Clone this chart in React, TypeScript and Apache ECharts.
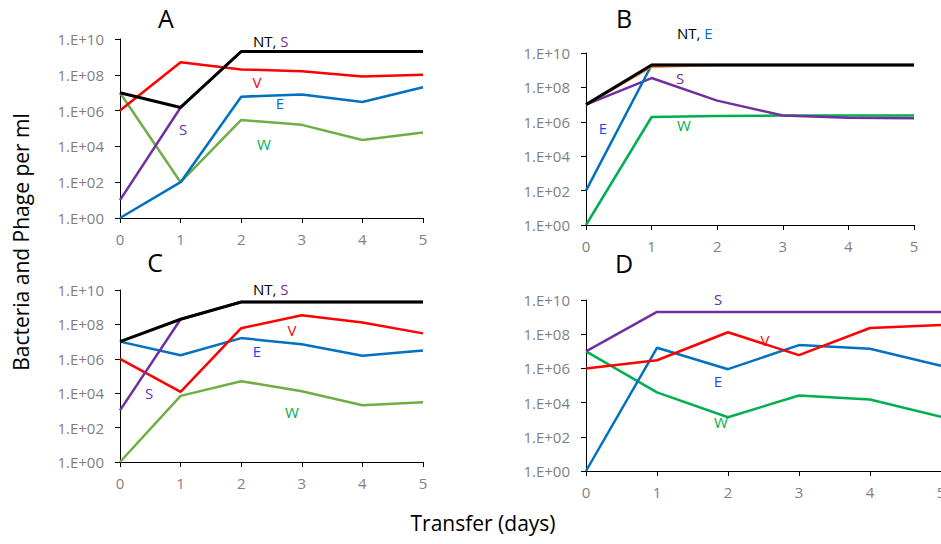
import React, { useEffect, useRef } from "react";
import * as echarts from "echarts";

const days = [0, 1, 2, 3, 4, 5];

// Panel A
const aNT = [1e7, 1.5e6, 2e9, 2e9, 2e9, 2e9];
const aV = [1e6, 5e8, 2e8, 1.6e8, 8e7, 1e8];
const aE = [1, 100, 6e6, 8e6, 3e6, 2e7];
const aW = [1e7, 100, 3e5, 1.6e5, 2.3e4, 6e4];
const aS = [10, 1.5e6, 2e9, 2e9, 2e9, 2e9];

// Panel B
const bNT = [1e7, 2e9, 2e9, 2e9, 2e9, 2e9];
const bV = [1e7, 1.6e9, 2e9, 2e9, 2e9, 2e9];
const bE = [100, 2e9, 2e9, 2e9, 2e9, 2e9];
const bS = [1e7, 3.5e8, 1.7e7, 2.3e6, 1.7e6, 1.6e6];
const bW = [1, 1.9e6, 2.2e6, 2.3e6, 2.3e6, 2.3e6];

// Panel C
const cNT = [1e7, 2e8, 2e9, 2e9, 2e9, 2e9];
const cV = [1e6, 1.2e4, 6e7, 3.4e8, 1.3e8, 3e7];
const cE = [1e7, 1.6e6, 1.6e7, 7e6, 1.5e6, 3e6];
const cW = [1, 7e3, 5e4, 1.3e4, 2e3, 3e3];
const cS = [1e3, 2e8, 2e9, 2e9, 2e9, 2e9];

// Panel D
const dS = [1e7, 2e9, 2e9, 2e9, 2e9, 2e9];
const dV = [1e6, 3e6, 1.3e8, 6e6, 2.3e8, 3.5e8];
const dE = [1, 1.6e7, 9e5, 2.3e7, 1.4e7, 1.4e6];
const dW = [1e7, 4e4, 1.4e3, 2.6e4, 1.5e4, 1.5e3];

const yTicks = ["1.E+00", "1.E+02", "1.E+04", "1.E+06", "1.E+08", "1.E+10"];

const BLACK = "#000000";
const RED = "#FF0000";
const BLUE = "#0070C0";
const GREEN_AC = "#70AD47";
const GREEN_BD = "#00B050";
const PURPLE = "#7030A0";
const ORANGE = "#ED7D31";
const FONT = "'Open Sans', sans-serif";

const pairs = (vals: number[]) => days.map((d, i) => [d, vals[i]]);

export default function App() {
  const ref = useRef<HTMLDivElement>(null);
  useEffect(() => {
    document.body.style.margin = "0";
    const chart = echarts.init(ref.current!, null, { renderer: "svg" });

    const grids = [
      { left: 120, top: 39, width: 303, height: 179 },
      { left: 586, top: 53, width: 328, height: 172 },
      { left: 120, top: 290, width: 303, height: 172 },
      { left: 586, top: 300, width: 355, height: 171 },
    ];

    const xAxes = grids.map((_, i) => ({
      type: "value",
      gridIndex: i,
      min: 0,
      max: 5,
      interval: 1,
      axisLine: { show: true, lineStyle: { color: "#000", width: 1 } },
      axisTick: { show: true, length: 5, lineStyle: { color: "#000" } },
      splitLine: { show: false },
      axisLabel: { color: "#7f7f7f", fontSize: 15, fontFamily: FONT, margin: 13 },
    }));

    const yAxes = grids.map((_, i) => ({
      type: "log",
      logBase: 100,
      gridIndex: i,
      min: 1,
      max: 1e10,
      axisLine: { show: true, lineStyle: { color: "#000", width: 1 } },
      axisTick: { show: true, length: 5, lineStyle: { color: "#000" } },
      splitLine: { show: false },
      minorTick: { show: false },
      axisLabel: {
        color: "#7f7f7f",
        fontSize: 15,
        fontFamily: FONT,
        margin: 16,
        formatter: (v: number) => {
          const e = Math.round(Math.log10(v) / 2);
          return yTicks[e] ?? "";
        },
      },
    }));

    const mk = (idx: number, data: number[], color: string, width = 2.5) => ({
      type: "line",
      xAxisIndex: idx,
      yAxisIndex: idx,
      data: pairs(data),
      symbol: "none",
      lineStyle: { color, width },
      itemStyle: { color },
      silent: true,
    });

    const series = [
      mk(0, aW, GREEN_AC),
      mk(0, aE, BLUE),
      mk(0, aV, RED),
      mk(0, aS, PURPLE),
      mk(0, aNT, BLACK, 3),

      mk(1, bW, GREEN_BD),
      mk(1, bS, PURPLE),
      mk(1, bE, BLUE),
      mk(1, bV, ORANGE),
      mk(1, bNT, BLACK, 3),

      mk(2, cW, GREEN_AC),
      mk(2, cE, BLUE),
      mk(2, cV, RED),
      mk(2, cS, PURPLE),
      mk(2, cNT, BLACK, 3),

      mk(3, dW, GREEN_BD),
      mk(3, dE, BLUE),
      mk(3, dV, RED),
      mk(3, dS, PURPLE),
    ];

    const t = (text: string, x: number, y: number, fill: string, fontSize = 15) => ({
      type: "text",
      x,
      y,
      style: {
        text,
        fill,
        fontSize,
        fontFamily: FONT,
        align: "center",
        verticalAlign: "middle",
      },
      silent: true,
    });

    const rt = (a: string, b: string, bColor: string, x: number, y: number) => ({
      type: "text",
      x,
      y,
      style: {
        text: `{k|${a}}{c|${b}}`,
        fontSize: 15,
        fontFamily: FONT,
        align: "left",
        verticalAlign: "middle",
        rich: {
          k: { fill: "#000", fontSize: 15, fontFamily: FONT },
          c: { fill: bColor, fontSize: 15, fontFamily: FONT },
        },
      },
      silent: true,
    });

    const graphic = [
      t("A", 166, 18, "#000", 25),
      t("B", 624, 18, "#000", 25),
      t("C", 155, 262, "#000", 25),
      t("D", 624, 263, "#000", 25),

      rt("NT, ", "S", PURPLE, 253, 41),
      t("V", 257, 82, RED),
      t("E", 280, 103, BLUE),
      t("S", 183, 129, PURPLE),
      t("W", 264, 144, GREEN_BD),

      rt("NT, ", "E", BLUE, 677, 33),
      t("S", 680, 78, PURPLE),
      t("E", 603, 128, "#1f3fff"),
      t("W", 684, 125, GREEN_BD),

      rt("NT, ", "S", PURPLE, 253, 289),
      t("V", 292, 330, RED),
      t("E", 257, 351, "#1f3fff"),
      t("S", 149, 393, PURPLE),
      t("W", 292, 412, GREEN_BD),

      t("S", 718, 299, PURPLE),
      t("V", 765, 340, RED),
      t("E", 718, 381, "#1f3fff"),
      t("W", 721, 422, GREEN_BD),

      t("Transfer (days)", 483, 523, "#000", 21),
      {
        type: "text",
        x: 21,
        y: 242,
        rotation: Math.PI / 2,
        style: {
          text: "Bacteria and Phage per ml",
          fill: "#000",
          fontSize: 21,
          fontFamily: FONT,
          align: "center",
          verticalAlign: "middle",
        },
        silent: true,
      },
    ];

    chart.setOption({
      animation: false,
      backgroundColor: "#fff",
      grid: grids.map((g) => ({ ...g, containLabel: false, outerBoundsMode: "none" })),
      xAxis: xAxes,
      yAxis: yAxes,
      series,
      graphic,
    });
    return () => chart.dispose();
  }, []);
  return <div ref={ref} style={{ width: 941, height: 544 }} />;
}
